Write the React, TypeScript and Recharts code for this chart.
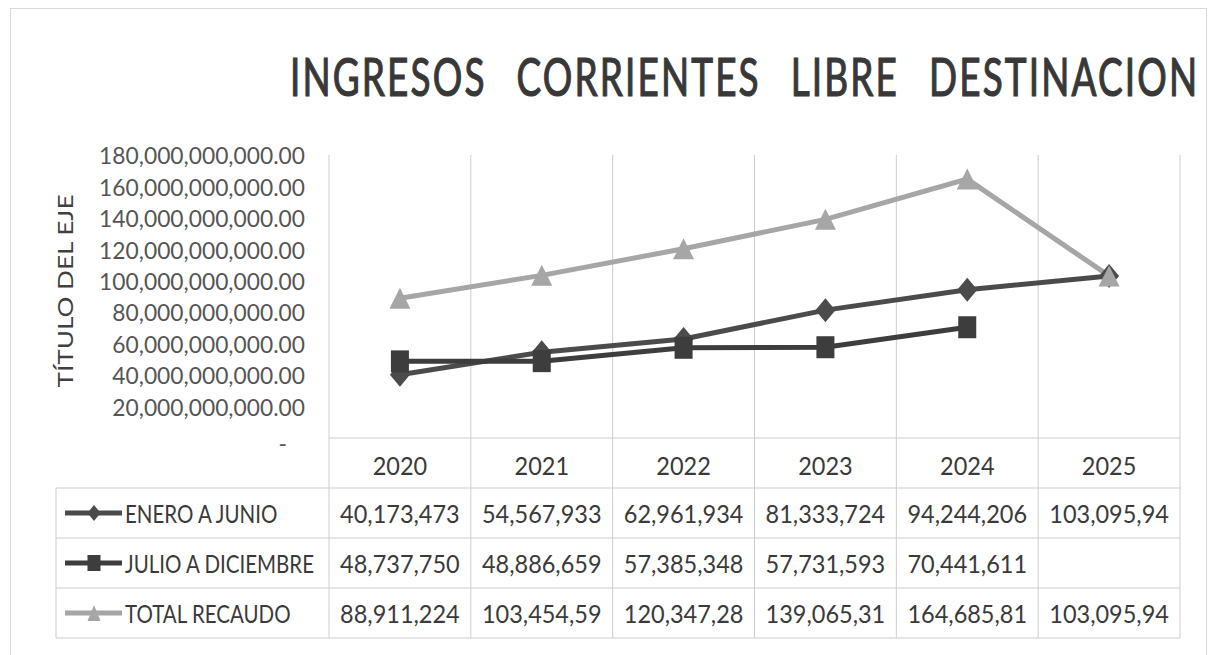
import React from "react";
import { LineChart, Line, XAxis, YAxis, CartesianGrid } from "recharts";

const YEARS = ["2020", "2021", "2022", "2023", "2024", "2025"];
const ENERO_JUNIO = [40173473000, 54567933000, 62961934000, 81333724000, 94244206000, 103095940000];
const JULIO_DICIEMBRE = [48737750000, 48886659000, 57385348000, 57731593000, 70441611000, null];
const TOTAL_RECAUDO = [88911224000, 103454590000, 120347280000, 139065310000, 164685810000, 103095940000];
const Y_TICKS = [0, 20e9, 40e9, 60e9, 80e9, 100e9, 120e9, 140e9, 160e9, 180e9];

const SERIES = [
  { key: "enero", name: "ENERO A JUNIO", color: "#4b4b4b", shape: "diamond" },
  { key: "julio", name: "JULIO A DICIEMBRE", color: "#3d3d3d", shape: "square" },
  { key: "total", name: "TOTAL RECAUDO", color: "#a6a6a6", shape: "triangle" },
];

const data = YEARS.map((year, i) => ({
  year,
  enero: ENERO_JUNIO[i],
  julio: JULIO_DICIEMBRE[i],
  total: TOTAL_RECAUDO[i],
}));

const W = 1209;
const H = 655;
const MARGIN = { top: 155, right: 29, left: 0, bottom: 17 };
const Y_AXIS_W = 329;
const X_AXIS_H = 200;
const COL_W = (W - MARGIN.right - Y_AXIS_W) / YEARS.length;
const ROW_H = 50;
const LEGEND_LEFT = 56;
const GRID = "#cdcdcd";
const TEXT = "#3a3a3a";

// excel cells clip the long numbers, keep the first 10 characters
const cellText = (v: number | null) =>
  v == null ? "" : v.toLocaleString("en-US").slice(0, 10);

const yTickText = (v: number) =>
  v === 0 ? "-" : v.toLocaleString("en-US", { minimumFractionDigits: 2, maximumFractionDigits: 2 });

function NarrowText({ x, y, sx, size, anchor = "middle", fill = TEXT, children }: any) {
  return (
    <text
      transform={`translate(${x},${y}) scale(${sx},1)`}
      textAnchor={anchor}
      dominantBaseline="central"
      fontSize={size}
      fill={fill}
      fontFamily="Lato"
    >
      {children}
    </text>
  );
}

function Marker({ shape, cx, cy, color, w, h }: any) {
  if (shape === "diamond")
    return (
      <polygon
        points={`${cx},${cy - h / 2} ${cx + w / 2},${cy} ${cx},${cy + h / 2} ${cx - w / 2},${cy}`}
        fill={color}
      />
    );
  if (shape === "square")
    return <rect x={cx - w / 2} y={cy - h / 2} width={w} height={h} fill={color} />;
  return (
    <polygon
      points={`${cx},${cy - h / 2} ${cx + w / 2},${cy + h / 2} ${cx - w / 2},${cy + h / 2}`}
      fill={color}
    />
  );
}

const MARKER_SIZE: Record<string, [number, number]> = {
  diamond: [20, 24],
  square: [18, 22],
  triangle: [21, 21],
};

function YTick({ x, y, payload }: any) {
  const isZero = payload.value === 0;
  return (
    <NarrowText x={isZero ? x - 18 : x} y={isZero ? y + 5 : y} sx={0.95} size={24} anchor="end" fill="#555">
      {yTickText(payload.value)}
    </NarrowText>
  );
}

// the data table under the plot, one column per category tick
function TableTick({ x, y, payload, index }: any) {
  const left = x - COL_W / 2;
  const right = x + COL_W / 2;
  const rows = [ENERO_JUNIO[index], JULIO_DICIEMBRE[index], TOTAL_RECAUDO[index]];
  return (
    <g>
      <line x1={left} x2={left} y1={y} y2={y + 4 * ROW_H} stroke={GRID} />
      {index === YEARS.length - 1 && (
        <line x1={right} x2={right} y1={y} y2={y + 4 * ROW_H} stroke={GRID} />
      )}
      {[1, 2, 3, 4].map((r) => (
        <line key={r} x1={left} x2={right} y1={y + r * ROW_H} y2={y + r * ROW_H} stroke={GRID} />
      ))}
      <NarrowText x={x} y={y + ROW_H / 2 + 2} sx={0.94} size={25}>
        {payload.value}
      </NarrowText>
      {rows.map((v, r) => (
        <NarrowText key={r} x={x} y={y + (r + 1.5) * ROW_H} sx={0.94} size={25}>
          {cellText(v as number | null)}
        </NarrowText>
      ))}
      {index === 0 && (
        <g>
          <line x1={LEGEND_LEFT} x2={LEGEND_LEFT} y1={y + ROW_H} y2={y + 4 * ROW_H} stroke={GRID} />
          {[1, 2, 3, 4].map((r) => (
            <line key={r} x1={LEGEND_LEFT} x2={left} y1={y + r * ROW_H} y2={y + r * ROW_H} stroke={GRID} />
          ))}
          {SERIES.map((s, r) => {
            const cy = y + (r + 1.5) * ROW_H;
            return (
              <g key={s.key}>
                <line x1={65} x2={122} y1={cy} y2={cy} stroke={s.color} strokeWidth={5} />
                <Marker shape={s.shape} cx={94} cy={cy} color={s.color} w={13} h={16} />
                <NarrowText x={125} y={cy} sx={0.82} size={25} anchor="start">
                  {s.name}
                </NarrowText>
              </g>
            );
          })}
        </g>
      )}
    </g>
  );
}

export default function App() {
  return (
    <div style={{ position: "absolute", left: 0, top: 0, width: W, height: H, background: "#fff" }}>
      <div
        style={{
          position: "absolute",
          left: 10,
          top: 8,
          right: 2,
          bottom: -10,
          borderTop: "1px solid #dadada",
          borderLeft: "1px solid #dadada",
          borderRight: "1px solid #dadada",
        }}
      />
      <svg width={W} height={H} style={{ position: "absolute", left: 0, top: 0 }}>
        <text
          transform="translate(290,96) scale(0.71,1)"
          fontFamily="Lato"
          fontSize={52}
          letterSpacing={3}
          wordSpacing={26}
          fill="#383838"
          stroke="#383838"
          strokeWidth={1.2}
        >
          INGRESOS CORRIENTES LIBRE DESTINACION
        </text>
        <text
          transform="translate(64,291) rotate(-90)"
          textAnchor="middle"
          dominantBaseline="central"
          fontFamily="Lato"
          fontSize={22}
          fill="#404040"
          textLength={193}
          lengthAdjust="spacingAndGlyphs"
        >
          TÍTULO DEL EJE
        </text>
      </svg>
      <div style={{ position: "absolute", left: 0, top: 0 }}>
        <LineChart width={W} height={H} data={data} margin={MARGIN}>
          <CartesianGrid
            horizontal={false}
            stroke={GRID}
            verticalCoordinatesGenerator={({ offset }: any) =>
              YEARS.map((_, i) => offset.left + i * (offset.width / YEARS.length)).concat(
                offset.left + offset.width
              )
            }
          />
          <XAxis
            dataKey="year"
            scale="band"
            height={X_AXIS_H}
            tickLine={false}
            tickSize={0}
            tickMargin={0}
            axisLine={{ stroke: GRID }}
            interval={0}
            tick={<TableTick />}
          />
          <YAxis
            width={Y_AXIS_W}
            domain={[0, 180e9]}
            ticks={Y_TICKS}
            interval={0}
            tickLine={false}
            tickSize={0}
            tickMargin={24}
            axisLine={false}
            tick={<YTick />}
          />
          {SERIES.map((s) => (
            <Line
              key={s.key}
              dataKey={s.key}
              name={s.name}
              type="linear"
              stroke={s.color}
              strokeWidth={5}
              isAnimationActive={false}
              activeDot={false}
              dot={(p: any) =>
                p.cy == null || p.value == null ? (
                  <g key={p.index} />
                ) : (
                  <Marker
                    key={p.index}
                    shape={s.shape}
                    cx={p.cx}
                    cy={p.cy}
                    color={s.color}
                    w={MARKER_SIZE[s.shape][0]}
                    h={MARKER_SIZE[s.shape][1]}
                  />
                )
              }
            />
          ))}
        </LineChart>
      </div>
    </div>
  );
}
